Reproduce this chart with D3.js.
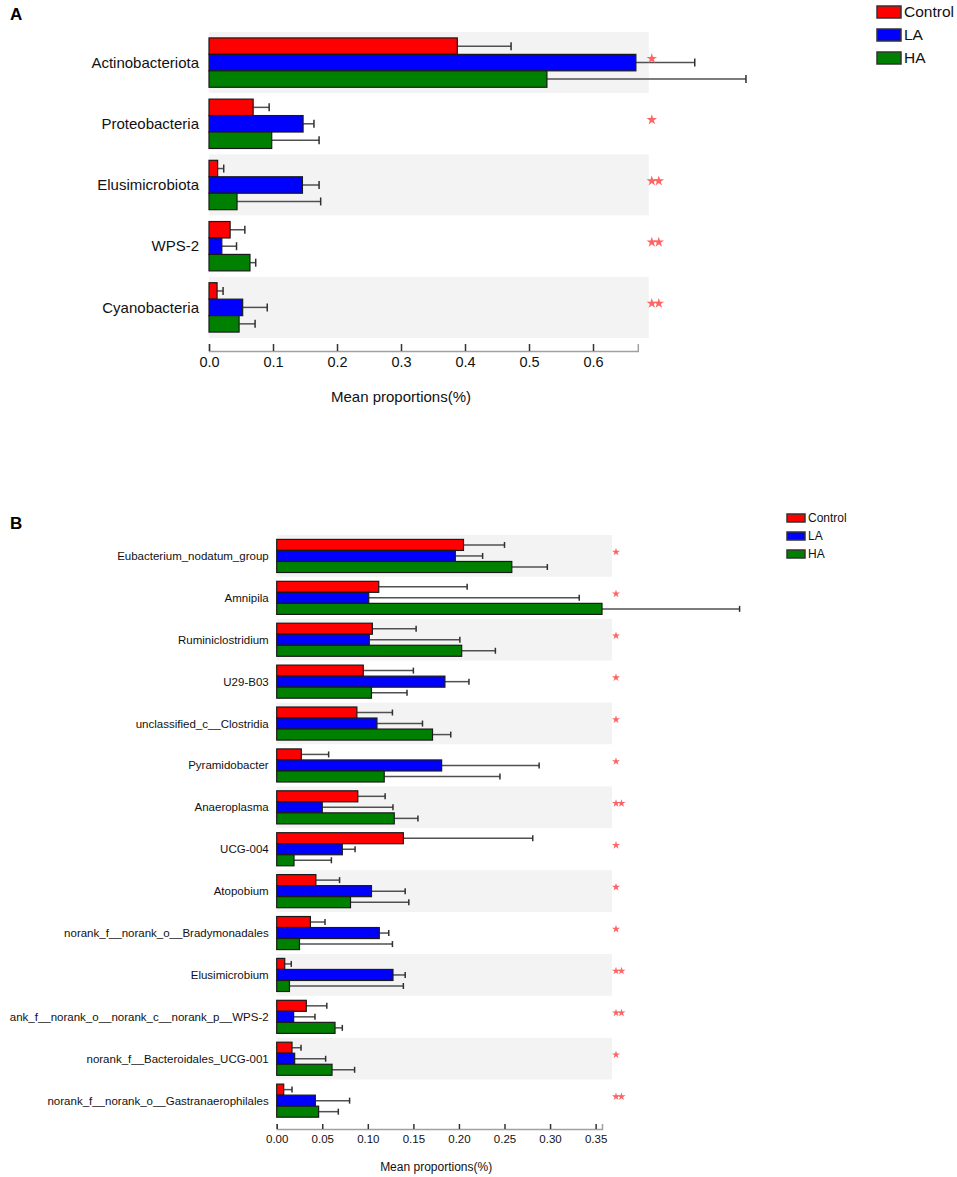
<!DOCTYPE html>
<html>
<head>
<meta charset="utf-8">
<script src="https://cdn.jsdelivr.net/npm/d3@7"></script>
<style>
  body { margin: 0; background: #fff; }
  text { font-family: Arial, "Liberation Sans", sans-serif; }
</style>
</head>
<body>
<svg id="chart" width="957" height="1177"></svg>
<script>
// groups and colours
const groups = ["Control", "LA", "HA"];
const groupColors = ["#ff0000", "#0000ff", "#008000"];

// panel A: phyla
const phyla = ["Actinobacteriota", "Proteobacteria", "Elusimicrobiota", "WPS-2", "Cyanobacteria"];
const phylaControl = [0.388, 0.069, 0.0135, 0.033, 0.0126];
const phylaControlErr = [0.472, 0.094, 0.023, 0.056, 0.022];
const phylaLA = [0.667, 0.147, 0.146, 0.020, 0.0526];
const phylaLAErr = [0.759, 0.164, 0.172, 0.043, 0.091];
const phylaHA = [0.528, 0.098, 0.0438, 0.064, 0.047];
const phylaHAErr = [0.839, 0.172, 0.1745, 0.073, 0.072];
const phylaSig = ["*", "*", "**", "**", "**"];
const phylaTicks = [0, 0.1, 0.2, 0.3, 0.4, 0.5, 0.6];

// panel B: genera
const genera = ["Eubacterium_nodatum_group", "Amnipila", "Ruminiclostridium", "U29-B03",
  "unclassified_c__Clostridia", "Pyramidobacter", "Anaeroplasma", "UCG-004", "Atopobium",
  "norank_f__norank_o__Bradymonadales", "Elusimicrobium",
  "ank_f__norank_o__norank_c__norank_p__WPS-2", "norank_f__Bacteroidales_UCG-001",
  "norank_f__norank_o__Gastranaerophilales"];
const generaControl = [0.205, 0.112, 0.105, 0.095, 0.088, 0.027, 0.089, 0.139, 0.043, 0.037, 0.0088, 0.0325, 0.0168, 0.0077];
const generaControlErr = [0.250, 0.209, 0.153, 0.150, 0.127, 0.057, 0.119, 0.281, 0.069, 0.053, 0.016, 0.055, 0.0267, 0.0168];
const generaLA = [0.196, 0.101, 0.1016, 0.1846, 0.110, 0.181, 0.050, 0.072, 0.104, 0.1126, 0.1276, 0.0186, 0.0197, 0.0424];
const generaLAErr = [0.226, 0.332, 0.201, 0.211, 0.160, 0.288, 0.1276, 0.086, 0.141, 0.123, 0.141, 0.042, 0.0537, 0.080];
const generaHA = [0.258, 0.357, 0.203, 0.104, 0.171, 0.118, 0.129, 0.019, 0.081, 0.025, 0.014, 0.064, 0.0607, 0.046];
const generaHAErr = [0.297, 0.508, 0.240, 0.143, 0.191, 0.245, 0.155, 0.060, 0.145, 0.127, 0.139, 0.072, 0.0855, 0.0676];
const generaSig = ["*", "*", "*", "*", "*", "*", "**", "*", "*", "*", "**", "**", "*", "**"];
const generaTicks = [0, 0.05, 0.1, 0.15, 0.2, 0.25, 0.3, 0.35];

const svg = d3.select("#chart");

const drawPanel = (p) => {
  const g = svg.append("g");

  const x = d3.scaleLinear().domain([0, p.xMax]).range([p.left, p.right]);
  const y = d3.scaleBand().domain(p.cats).range([p.top, p.bottom]);
  const sub = d3.scaleBand().domain(groups).range([0, y.bandwidth()]).paddingOuter(p.subPad);

  // background stripes
  g.selectAll("rect.band")
    .data(p.cats)
    .enter()
    .append("rect")
    .attr("x", p.left)
    .attr("y", d => y(d))
    .attr("width", p.right + p.bandExtra - p.left)
    .attr("height", y.bandwidth())
    .attr("fill", (d, i) => i % 2 === 0 ? "#f3f3f3" : "#ffffff");

  const series = [p.control, p.la, p.ha];
  const errs = [p.controlErr, p.laErr, p.haErr];
  const rows = [];
  p.cats.forEach((c, i) => {
    groups.forEach((gr, j) => {
      rows.push({ cat: c, group: gr, color: groupColors[j], value: series[j][i], err: errs[j][i] });
    });
  });

  // error bars
  const eb = g.selectAll("g.err").data(rows).enter().append("g");
  eb.append("line")
    .attr("x1", d => x(d.value))
    .attr("x2", d => x(d.err))
    .attr("y1", d => y(d.cat) + sub(d.group) + sub.bandwidth() / 2)
    .attr("y2", d => y(d.cat) + sub(d.group) + sub.bandwidth() / 2)
    .attr("stroke", "#505050")
    .attr("stroke-width", 1.5);
  eb.append("line")
    .attr("x1", d => x(d.err))
    .attr("x2", d => x(d.err))
    .attr("y1", d => y(d.cat) + sub(d.group) + sub.bandwidth() / 2 - p.cap)
    .attr("y2", d => y(d.cat) + sub(d.group) + sub.bandwidth() / 2 + p.cap)
    .attr("stroke", "#303030")
    .attr("stroke-width", 1.5);

  // bars
  g.selectAll("rect.bar")
    .data(rows)
    .enter()
    .append("rect")
    .attr("x", x(0))
    .attr("y", d => y(d.cat) + sub(d.group))
    .attr("width", d => x(d.value) - x(0))
    .attr("height", sub.bandwidth())
    .attr("fill", d => d.color)
    .attr("stroke", "#1a1a1a")
    .attr("stroke-width", 1.2);

  // category labels
  g.selectAll("text.cat")
    .data(p.cats)
    .enter()
    .append("text")
    .attr("x", p.left - p.labelGap)
    .attr("y", d => y(d) + y.bandwidth() / 2)
    .attr("dy", "0.35em")
    .attr("text-anchor", "end")
    .attr("font-size", p.catFont)
    .attr("fill", "#111")
    .text(d => d);

  // significance stars
  g.selectAll("g.sig")
    .data(p.cats)
    .enter()
    .append("g")
    .each(function (d, i) {
      const n = p.sig[i].length;
      for (let k = 0; k < n; k++) {
        d3.select(this).append("path")
          .attr("d", d3.symbol(d3.symbolStar, p.starSize))
          .attr("transform", `translate(${p.right + p.starOffset + k * p.starGap},${y(d) + y.bandwidth() / 2 - 4})`)
          .attr("fill", "#ff6464");
      }
    });

  // axis
  const axis = g.append("g")
    .attr("transform", `translate(0,${p.axisY})`)
    .call(d3.axisBottom(x).tickValues(p.ticks).tickFormat(d3.format(p.fmt))
      .tickSizeInner(-p.tickLen).tickSizeOuter(-p.tickLen).tickPadding(p.tickPad));
  axis.select(".domain").attr("stroke", "#a0a0a0").attr("stroke-width", 1.5);
  axis.selectAll(".tick line").attr("stroke", "#333").attr("stroke-width", 1.5);
  axis.selectAll(".tick text")
    .attr("font-size", p.tickFont)
    .attr("font-family", "Arial, 'Liberation Sans', sans-serif")
    .attr("fill", "#111");

  g.append("text")
    .attr("x", (x(0) + x(p.ticks[p.ticks.length - 1])) / 2)
    .attr("y", p.titleY)
    .attr("text-anchor", "middle")
    .attr("font-size", p.titleFont)
    .attr("fill", "#111")
    .text("Mean proportions(%)");

  // legend
  const lg = g.selectAll("g.leg")
    .data(groups)
    .enter()
    .append("g")
    .attr("transform", (d, i) => `translate(${p.legX},${p.legY + i * p.legStep})`);
  lg.append("rect")
    .attr("width", p.legW)
    .attr("height", p.legH)
    .attr("fill", (d, i) => groupColors[i])
    .attr("stroke", "#333")
    .attr("stroke-width", 1.5);
  lg.append("text")
    .attr("x", p.legW + 3)
    .attr("y", p.legH / 2)
    .attr("dy", "0.35em")
    .attr("font-size", p.legFont)
    .attr("fill", "#111")
    .text(d => d);

  // panel letter
  svg.append("text")
    .attr("x", 10)
    .attr("y", p.letterY)
    .attr("font-size", 17)
    .attr("font-weight", "bold")
    .text(p.letter);
};

drawPanel({
  letter: "A", letterY: 20,
  cats: phyla, control: phylaControl, controlErr: phylaControlErr,
  la: phylaLA, laErr: phylaLAErr, ha: phylaHA, haErr: phylaHAErr, sig: phylaSig,
  ticks: phylaTicks, fmt: ".1f", xMax: 0.67,
  left: 209, right: 637.8, top: 32, bottom: 338, bandExtra: 11, subPad: 0.36,
  axisY: 351, tickLen: 7, tickPad: 6, tickFont: 14.5,
  titleY: 402, titleFont: 15,
  labelGap: 10, catFont: 15, cap: 4,
  starSize: 34, starOffset: 14, starGap: 7,
  legX: 877, legY: 6, legStep: 23, legW: 24, legH: 12, legFont: 15.5
});

drawPanel({
  letter: "B", letterY: 529,
  cats: genera, control: generaControl, controlErr: generaControlErr,
  la: generaLA, laErr: generaLAErr, ha: generaHA, haErr: generaHAErr, sig: generaSig,
  ticks: generaTicks, fmt: ".2f", xMax: 0.357,
  left: 276.7, right: 602, top: 535, bottom: 1121.6, bandExtra: 10, subPad: 0.4,
  axisY: 1129, tickLen: 5, tickPad: 6, tickFont: 11.5,
  titleY: 1171, titleFont: 12,
  labelGap: 8, catFont: 11.5, cap: 3,
  starSize: 20, starOffset: 14, starGap: 5.5,
  legX: 787, legY: 514, legStep: 18, legW: 18, legH: 8, legFont: 12
});
</script>
</body>
</html>
